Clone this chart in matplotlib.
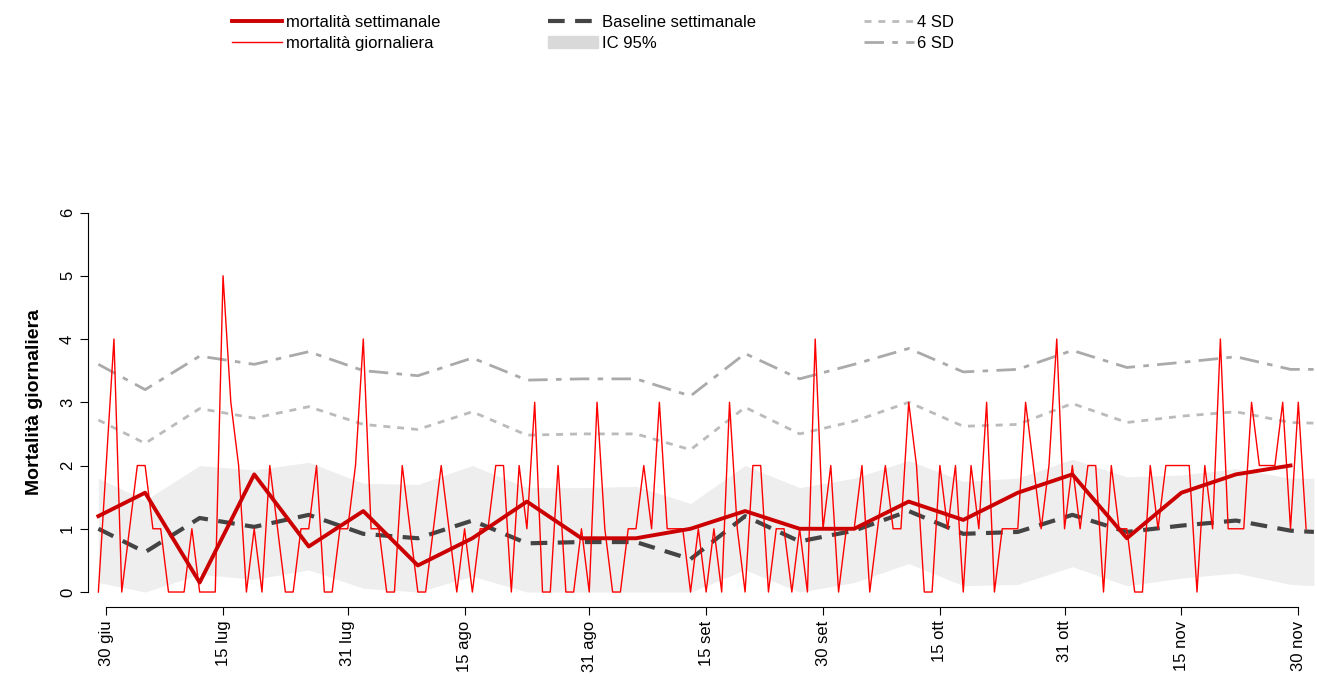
import numpy as np
import matplotlib.pyplot as plt
from matplotlib.patches import Patch
from matplotlib.lines import Line2D

plt.rcParams['font.family'] = ['Liberation Sans', 'DejaVu Sans']

# daily deaths, day 0 = 29 June
daily = [0, 2, 4, 0, 1, 2, 2, 1, 1, 0, 0, 0, 1, 0, 0, 0, 5, 3, 2, 0,
         1, 0, 2, 1, 0, 0, 1, 1, 2, 0, 0, 1, 1, 2, 4, 1, 1, 0, 0, 2,
         1, 0, 0, 1, 2, 1, 0, 1, 0, 1, 1, 2, 2, 0, 2, 1, 3, 0, 0, 2,
         0, 0, 1, 0, 3, 1, 0, 0, 1, 1, 2, 1, 3, 1, 1, 1, 0, 1, 0, 1,
         0, 3, 1, 0, 2, 2, 0, 1, 1, 0, 1, 0, 4, 1, 2, 0, 1, 1, 2, 0,
         1, 2, 1, 1, 3, 2, 0, 0, 2, 1, 2, 0, 2, 1, 3, 0, 1, 1, 1, 3,
         2, 1, 2, 4, 1, 2, 1, 2, 2, 0, 2, 1, 1, 0, 0, 2, 1, 2, 2, 2,
         2, 0, 2, 1, 4, 1, 1, 1, 3, 2, 2, 2, 3, 1, 3, 1]

# weekly series
week_days = [0, 6, 13, 20, 27, 34, 41, 48, 55, 62, 69, 76, 83, 90, 97,
             104, 111, 118, 125, 132, 139, 146, 153]
weekly = [1.2, 1.57, 0.15, 1.86, 0.72, 1.28, 0.42, 0.85, 1.43, 0.85, 0.85, 1.0,
          1.28, 1.0, 1.0, 1.43, 1.14, 1.57, 1.86, 0.85, 1.57, 1.86, 2.0]

ref_days = week_days + [156]
baseline = [1.0, 0.63, 1.17, 1.03, 1.22, 0.92, 0.85, 1.13, 0.77, 0.79, 0.79, 0.52,
            1.2, 0.8, 0.97, 1.28, 0.92, 0.95, 1.22, 0.95, 1.05, 1.13, 0.97, 0.95]
sd4 = [2.72, 2.35, 2.9, 2.75, 2.93, 2.65, 2.57, 2.85, 2.48, 2.5, 2.5, 2.25,
       2.92, 2.5, 2.7, 3.0, 2.62, 2.65, 2.98, 2.68, 2.78, 2.85, 2.68, 2.67]
sd6 = [3.6, 3.2, 3.73, 3.6, 3.8, 3.5, 3.42, 3.7, 3.35, 3.37, 3.37, 3.1,
       3.77, 3.37, 3.6, 3.85, 3.48, 3.52, 3.82, 3.55, 3.63, 3.72, 3.52, 3.52]
ci_hi = [1.8, 1.45, 2.0, 1.93, 2.05, 1.72, 1.7, 2.0, 1.65, 1.65, 1.67, 1.4,
         2.0, 1.65, 1.8, 2.08, 1.75, 1.8, 2.1, 1.82, 1.85, 1.95, 1.8, 1.8]
ci_lo = [0.15, 0.0, 0.28, 0.2, 0.35, 0.06, 0.0, 0.25, 0.0, 0.0, 0.0, 0.0,
         0.35, 0.0, 0.15, 0.45, 0.1, 0.12, 0.4, 0.1, 0.22, 0.3, 0.12, 0.1]

tick_labels = ['30 giu', '15 lug', '31 lug', '15 ago', '31 ago', '15 set',
               '30 set', '15 ott', '31 ott', '15 nov', '30 nov']
tick_dates = ['2020-06-30', '2020-07-15', '2020-07-31', '2020-08-15', '2020-08-31',
              '2020-09-15', '2020-09-30', '2020-10-15', '2020-10-31', '2020-11-15',
              '2020-11-30']

start = np.datetime64('2020-06-29')
tick_pos = [int((np.datetime64(d) - start).astype(int)) for d in tick_dates]

fig = plt.figure(figsize=(13.17, 6.9), dpi=100)
ax = fig.add_axes([0.067, 0.12, 0.933, 0.594])

ax.fill_between(ref_days, ci_lo, ci_hi, color='#eeeeee', lw=0)
ax.plot(ref_days, sd6, color='#aaaaaa', lw=2, dashes=(7, 3, 2, 3))
ax.plot(ref_days, sd4, color='#bbbbbb', lw=2, dashes=(2.5, 2.5))
ax.plot(ref_days, baseline, color='#444444', lw=3, dashes=(4, 2.5))
ax.plot(range(len(daily)), daily, color='#ff0000', lw=1)
ax.plot(week_days, weekly, color='#cc0000', lw=2.8)

ax.set_xlim(-1.3, 156.4)
ax.set_ylim(-0.24, 6.24)
ax.set_yticks(range(7))
ax.set_yticklabels([str(i) for i in range(7)], va='center', fontsize=12)
ax.set_xticks(tick_pos)
ax.set_xticklabels(tick_labels, fontsize=12)
ax.tick_params(axis='x', labelrotation=90, length=6)
ax.tick_params(axis='y', labelrotation=90, length=6)
ax.set_ylabel('Mortalità giornaliera', fontsize=14, fontweight='bold', labelpad=12)
for s in ['top', 'right']:
    ax.spines[s].set_visible(False)
ax.spines['left'].set_bounds(0, 6)
ax.spines['bottom'].set_bounds(tick_pos[0], tick_pos[-1])

handles = [
    Line2D([], [], color='#cc0000', lw=2.8),
    Line2D([], [], color='#ff0000', lw=1),
    Line2D([], [], color='#444444', lw=3, dashes=(4, 2.5)),
    Patch(color='#d9d9d9'),
    Line2D([], [], color='#bbbbbb', lw=2, dashes=(2.5, 2.5)),
    Line2D([], [], color='#aaaaaa', lw=2, dashes=(7, 3, 2, 3)),
]
labels = ['mortalità settimanale', 'mortalità giornaliera', 'Baseline settimanale',
          'IC 95%', '4 SD', '6 SD']
fig.legend(handles, labels, ncol=3, loc='upper left', bbox_to_anchor=(0.165, 1.0),
           frameon=False, fontsize=12, columnspacing=6.5, handlelength=3,
           handletextpad=0.2, labelspacing=0.35)

fig.savefig('out.png', dpi=100)
